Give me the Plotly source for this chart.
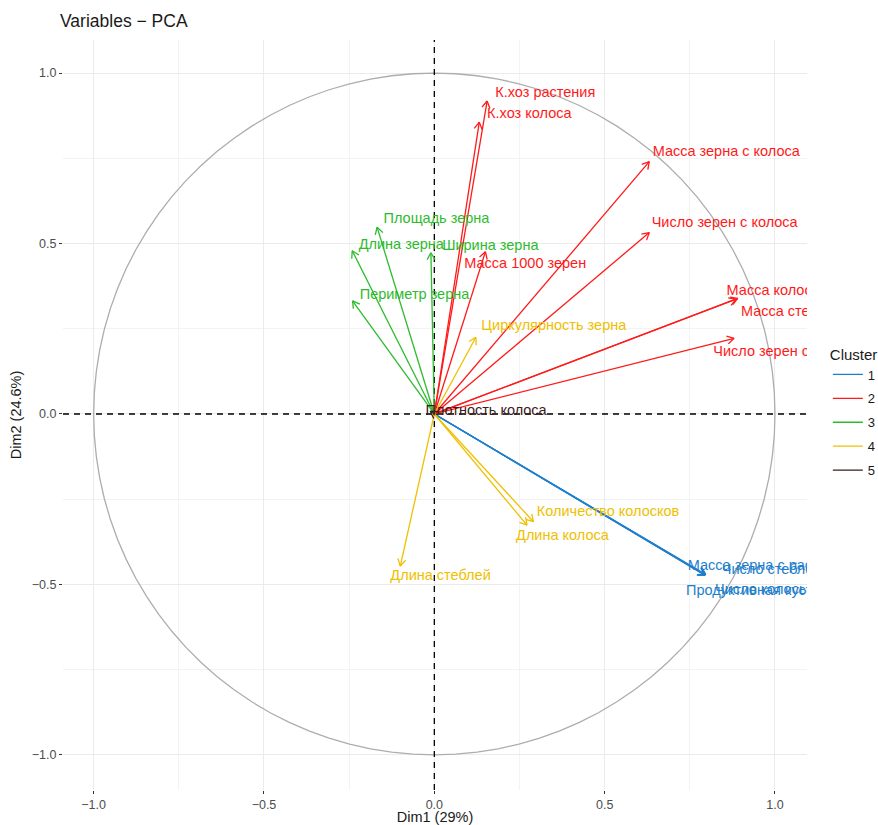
import numpy as np
import plotly.graph_objects as go

# PCA variable coordinates (Dim1, Dim2) and cluster membership
variables = [
    "К.хоз растения", "К.хоз колоса", "Масса зерна с колоса", "Число зерен с колоса",
    "Масса 1000 зерен", "Масса колоса", "Масса стебля", "Число зерен с растения",
    "Длина зерна", "Площадь зерна", "Ширина зерна", "Периметр зерна",
    "Циркулярность зерна", "Количество колосков", "Длина колоса", "Длина стеблей",
    "Плотность колоса",
    "Масса зерна с растения", "Число стеблей", "Продуктивная кустистость", "Число колосьев",
]
dim1 = [0.155, 0.132, 0.631, 0.631, 0.150, 0.891, 0.886, 0.880,
        -0.241, -0.168, -0.010, -0.240,
        0.122, 0.291, 0.272, -0.100,
        -0.012,
        0.795, 0.797, 0.794, 0.796]
dim2 = [0.918, 0.856, 0.740, 0.532, 0.476, 0.339, 0.337, 0.222,
        0.479, 0.548, 0.473, 0.332,
        0.225, -0.316, -0.326, -0.446,
        0.008,
        -0.472, -0.471, -0.473, -0.472]
cluster = [2, 2, 2, 2, 2, 2, 2, 2,
           3, 3, 3, 3,
           4, 4, 4, 4,
           5,
           1, 1, 1, 1]

# Label anchor points (left edge of text)
label_x = [0.179, 0.155, 0.641, 0.638, 0.088, 0.858, 0.900, 0.819,
           -0.222, -0.149, 0.023, -0.219,
           0.138, 0.301, 0.240, -0.129,
           -0.026,
           0.744, 0.844, 0.739, 0.824]
label_y = [0.940, 0.879, 0.768, 0.560, 0.438, 0.360, 0.298, 0.182,
           0.495, 0.570, 0.492, 0.348,
           0.257, -0.288, -0.359, -0.476,
           0.008,
           -0.447, -0.459, -0.520, -0.517]

cluster_colors = {1: "#1f7fcc", 2: "#ff1a1a", 3: "#2dbb2d", 4: "#efc000", 5: "#3b1c1c"}

X_RANGE = [-1.09, 1.094]
Y_RANGE = [-1.103, 1.097]
W, H = 878, 825
M = dict(l=63, r=71, t=40, b=35, autoexpand=False)
px_x = (W - M["l"] - M["r"]) / (X_RANGE[1] - X_RANGE[0])
px_y = (H - M["t"] - M["b"]) / (Y_RANGE[1] - Y_RANGE[0])

FONT = "Liberation Sans, Arial, sans-serif"
LABEL_SIZE = 14.5

fig = go.Figure()

# correlation circle
theta = np.linspace(0, 2 * np.pi, 101)
fig.add_trace(go.Scatter(x=np.cos(theta), y=np.sin(theta), mode="lines",
                         line=dict(color="#adadad", width=1.3),
                         hoverinfo="skip", showlegend=False))

# dashed zero lines
fig.add_trace(go.Scatter(x=[X_RANGE[0], X_RANGE[1], None, 0, 0],
                         y=[0, 0, None, Y_RANGE[0], Y_RANGE[1]], mode="lines",
                         line=dict(color="black", width=1.3, dash="6px,5px"),
                         hoverinfo="skip", showlegend=False))


def arrow_path(xs, ys, head_px=8.0, angle_deg=30.0):
    px, py = [], []
    a = np.radians(angle_deg)
    for x, y in zip(xs, ys):
        px += [0, x, None]
        py += [0, y, None]
        # direction in screen pixels
        dx, dy = x * px_x, y * px_y
        n = np.hypot(dx, dy)
        if n == 0:
            continue
        ux, uy = dx / n, dy / n
        for s in (a, -a):
            rx = ux * np.cos(s) - uy * np.sin(s)
            ry = ux * np.sin(s) + uy * np.cos(s)
            hx = x - head_px * rx / px_x
            hy = y - head_px * ry / px_y
            px += [hx, x, None]
            py += [hy, y, None]
    return px, py


for c in [1, 2, 3, 4, 5]:
    idx = [i for i, k in enumerate(cluster) if k == c]
    ax_, ay_ = arrow_path([dim1[i] for i in idx], [dim2[i] for i in idx])
    fig.add_trace(go.Scatter(x=ax_, y=ay_, mode="lines", name=str(c),
                             line=dict(color=cluster_colors[c], width=1.3),
                             hoverinfo="skip", legendgroup=str(c)))

for c in [1, 2, 3, 4, 5]:
    idx = [i for i, k in enumerate(cluster) if k == c]
    fig.add_trace(go.Scatter(x=[label_x[i] for i in idx], y=[label_y[i] for i in idx],
                             mode="text", text=[variables[i] for i in idx],
                             textposition="middle right",
                             textfont=dict(family=FONT, size=LABEL_SIZE, color=cluster_colors[c]),
                             cliponaxis=True, hoverinfo="skip", showlegend=False,
                             legendgroup=str(c)))

axis_common = dict(
    showline=False, zeroline=False,
    gridcolor="#ebebeb", gridwidth=1,
    ticks="outside", ticklen=3, tickcolor="#333333", tickwidth=1,
    tickfont=dict(family=FONT, size=12.5, color="#4d4d4d"),
    tickvals=[-1.0, -0.5, 0.0, 0.5, 1.0],
    ticktext=["\u22121.0", "\u22120.5", "0.0", "0.5", "1.0"],
    minor=dict(tickvals=[-0.75, -0.25, 0.25, 0.75], showgrid=True,
               gridcolor="#f3f3f3", gridwidth=1, ticks=""),
)

fig.update_layout(
    width=W, height=H,
    margin=M,
    paper_bgcolor="white", plot_bgcolor="white",
    font=dict(family=FONT, color="#1a1a1a"),
    title=dict(text="Variables \u2212 PCA", x=60 / W, xanchor="left", xref="container",
               y=1 - 21 / H, yanchor="middle", yref="container",
               font=dict(family=FONT, size=17.5, color="#1a1a1a")),
    xaxis=dict(range=X_RANGE, title=dict(text="Dim1 (29%)", standoff=3,
                                         font=dict(family=FONT, size=14.5, color="#1a1a1a")),
               **axis_common),
    yaxis=dict(range=Y_RANGE, title=dict(text="Dim2 (24.6%)", standoff=6,
                                         font=dict(family=FONT, size=14.5, color="#1a1a1a")),
               **axis_common),
    legend=dict(title=dict(text="Cluster", font=dict(family=FONT, size=15, color="#1a1a1a")),
                x=1.028, xanchor="left", y=0.600, yanchor="top",
                font=dict(family=FONT, size=13, color="#1a1a1a"),
                itemwidth=30, tracegroupgap=4, bgcolor="rgba(0,0,0,0)"),
    showlegend=True,
)

fig.write_html("out.html")
